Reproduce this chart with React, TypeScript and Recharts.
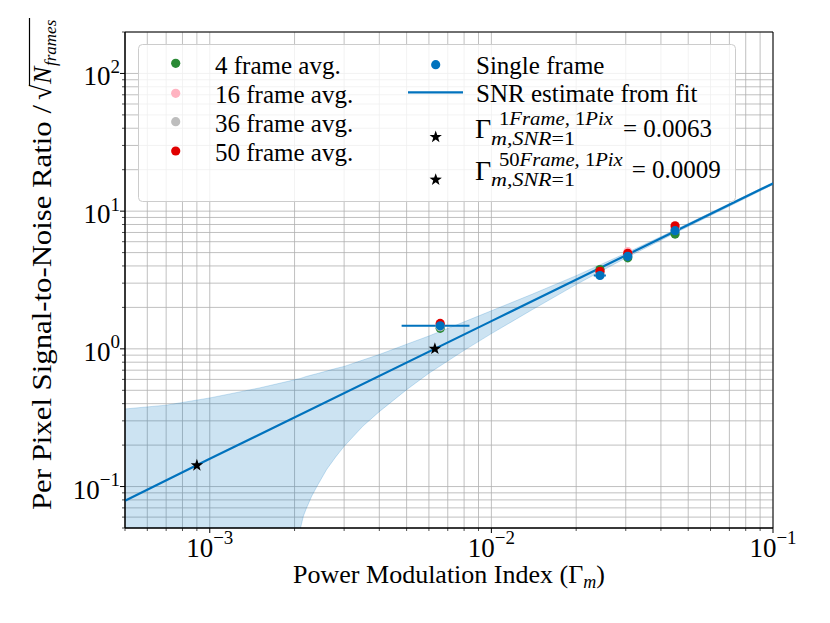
import React from 'react';
import {
  ComposedChart,
  XAxis,
  YAxis,
  CartesianGrid,
  Area,
  Line,
  Scatter,
  ErrorBar,
  ReferenceArea,
} from 'recharts';

const FONT = '"Liberation Serif", "DejaVu Serif", serif';
const W = 822;
const H = 615;
const BLUE = '#0072BD';

// ---- axis ticks ----
const xTicks = [
  0.0005, 0.0006, 0.0007, 0.0008, 0.0009,
  0.001, 0.002, 0.003, 0.004, 0.005, 0.006, 0.007, 0.008, 0.009,
  0.01, 0.02, 0.03, 0.04, 0.05, 0.06, 0.07, 0.08, 0.09,
  0.1,
];
const yTicks = [
  0.05, 0.06, 0.07, 0.08, 0.09,
  0.1, 0.2, 0.3, 0.4, 0.5, 0.6, 0.7, 0.8, 0.9,
  1, 2, 3, 4, 5, 6, 7, 8, 9,
  10, 20, 30, 40, 50, 60, 70, 80, 90,
  100, 200,
];
const majorX = [0.001, 0.01, 0.1];
const majorXExp = ['\u22123', '\u22122', '\u22121'];
const majorY = [0.1, 1, 10, 100];
const majorYExp = ['\u22121', '0', '1', '2'];

// ---- confidence band of the fit ----
const bandX = [
  0.0005, 0.0007, 0.001, 0.0015, 0.002, 0.0021, 0.00215, 0.0022, 0.0023,
  0.0024, 0.0026, 0.0028, 0.003, 0.0035, 0.004, 0.005, 0.006, 0.008, 0.01,
  0.014, 0.02, 0.03, 0.045, 0.07, 0.1,
];
const bandLower = [
  0.05, 0.05, 0.05, 0.05, 0.05, 0.05, 0.061, 0.069, 0.085,
  0.1, 0.133, 0.164, 0.196, 0.275, 0.35, 0.505, 0.665, 0.975, 1.29,
  1.93, 2.93, 4.57, 6.95, 10.85, 15.6,
];
const bandUpper = [
  0.366, 0.39, 0.44, 0.52, 0.596, 0.61, 0.62, 0.63, 0.645,
  0.66, 0.69, 0.72, 0.745, 0.83, 0.91, 1.08, 1.24, 1.57, 1.89,
  2.5, 3.4, 4.95, 7.33, 11.35, 16.15,
];

// ---- SNR fit line ----
const fitX = [0.0005, 0.001, 0.01, 0.1];
const fitY = [0.079, 0.159, 1.59, 15.9];

// ---- measured points ----
const pointX = [0.00658, 0.0243, 0.0305, 0.0449];
const singleFrame = [1.47, 3.41, 4.7, 7.21];
const singleFrameXErr = [0.00178, 0.0012, 0.0008, 0.0008];
const avg4 = [1.41, 3.77, 4.58, 6.82];
const avg16 = [1.5, 3.6, 5.08, 7.5];
const avg36 = [1.45, 3.5, 4.8, 7.3];
const avg50 = [1.53, 3.66, 4.94, 7.83];

// ---- SNR = 1 crossings ----
const starX = [0.0063, 0.0009];
const starY = [1.0, 0.1425];

const bandData = bandX.map((x, i) => {
  const fi = fitX.findIndex((f) => Math.abs(f - x) / x < 1e-9);
  return { x, band: [bandLower[i], bandUpper[i]], fit: fi >= 0 ? fitY[fi] : null };
});
const mk = (ys: number[]) => pointX.map((x, i) => ({ x, y: ys[i] }));
const singleData = pointX.map((x, i) => ({ x, y: singleFrame[i], xerr: singleFrameXErr[i] }));
const starData = starX.map((x, i) => ({ x, y: starY[i] }));

const findIdx = (arr: number[], v: number) => arr.findIndex((m) => Math.abs(m - v) / m < 1e-6);

const XTick = (props: any) => {
  const { x, y, payload } = props;
  const mi = findIdx(majorX, payload.value);
  const major = mi >= 0;
  return (
    <g>
      <line x1={x} x2={x} y1={y} y2={y + (major ? 5 : 3)} stroke="#000" strokeWidth={major ? 1 : 0.7} />
      {major && (
        <text x={x} y={y + 28.5} textAnchor="middle" fontFamily={FONT} fontSize={27} fill="#000">
          10
          <tspan dy={-13} fontSize={19}>{majorXExp[mi]}</tspan>
        </text>
      )}
    </g>
  );
};

const YTick = (props: any) => {
  const { x, y, payload } = props;
  const mi = findIdx(majorY, payload.value);
  const major = mi >= 0;
  return (
    <g>
      <line x1={x - (major ? 5 : 3)} x2={x} y1={y} y2={y} stroke="#000" strokeWidth={major ? 1 : 0.7} />
      {major && (
        <text x={x - 5} y={y + 12} textAnchor="end" fontFamily={FONT} fontSize={27} fill="#000">
          10
          <tspan dy={-12.5} fontSize={19}>{majorYExp[mi]}</tspan>
        </text>
      )}
    </g>
  );
};

const dotShape = (color: string) => (p: any) => <circle cx={p.cx} cy={p.cy} r={4.6} fill={color} />;

const starPath = (cx: number, cy: number, R: number) => {
  const r = R * 0.4;
  let d = '';
  for (let k = 0; k < 10; k++) {
    const rad = k % 2 === 0 ? R : r;
    const a = -Math.PI / 2 + (k * Math.PI) / 5;
    d += (k === 0 ? 'M' : 'L') + (cx + rad * Math.cos(a)).toFixed(2) + ',' + (cy + rad * Math.sin(a)).toFixed(2);
  }
  return d + 'Z';
};
const starShape = (p: any) => <path d={starPath(p.cx, p.cy, 6.5)} fill="#000" />;

function Overlay() {
  const col1 = [
    { c: '#2a8a35', t: '4 frame avg.' },
    { c: '#ffb3c1', t: '16 frame avg.' },
    { c: '#bdbdbd', t: '36 frame avg.' },
    { c: '#e00000', t: '50 frame avg.' },
  ];
  const col1y = [19.3, 49.3, 77.7, 107];
  const col1base = [30, 59.3, 87.7, 116.5];
  return (
    <svg width={W} height={H} style={{ position: 'absolute', left: 0, top: 0, pointerEvents: 'none' }}>
      {/* legend */}
      <g transform="translate(130,36)" fontFamily={FONT} fill="#000">
        <rect x={0.5} y={0.5} width={597} height={157} rx={4} fill="#ffffff" fillOpacity={0.8} stroke="#cccccc" />
        {col1.map((e, i) => (
          <g key={i}>
            <circle cx={37.7} cy={col1y[i]} r={4.6} fill={e.c} />
            <text x={77} y={col1base[i]} fontSize={25}>{e.t}</text>
          </g>
        ))}
        <circle cx={297.7} cy={20.7} r={4.6} fill={BLUE} />
        <text x={338} y={30} fontSize={25}>Single frame</text>
        <line x1={270} x2={325} y1={48.3} y2={48.3} stroke={BLUE} strokeWidth={2.2} />
        <text x={338} y={58} fontSize={25}>SNR estimate from fit</text>

        <path d={starPath(297.7, 93, 6.5)} fill="#000" />
        <text x={337} y={94} fontSize={28}>Γ</text>
        <text x={361} y={81.3} fontSize={19} textLength={114} lengthAdjust="spacingAndGlyphs">
          1<tspan fontStyle="italic">Frame,</tspan> 1<tspan fontStyle="italic">Pix</tspan>
        </text>
        <text x={353} y={100.5} fontSize={19} textLength={84} lengthAdjust="spacingAndGlyphs">
          <tspan fontStyle="italic">m</tspan>,<tspan fontStyle="italic">SNR</tspan>=1
        </text>
        <text x={485} y={92.5} fontSize={25}>= 0.0063</text>

        <path d={starPath(297.7, 135.7, 6.5)} fill="#000" />
        <text x={337} y={136} fontSize={28}>Γ</text>
        <text x={361} y={122.3} fontSize={19} textLength={123.7} lengthAdjust="spacingAndGlyphs">
          50<tspan fontStyle="italic">Frame,</tspan> 1<tspan fontStyle="italic">Pix</tspan>
        </text>
        <text x={353} y={141.5} fontSize={19} textLength={84} lengthAdjust="spacingAndGlyphs">
          <tspan fontStyle="italic">m</tspan>,<tspan fontStyle="italic">SNR</tspan>=1
        </text>
        <text x={493.7} y={134} fontSize={25}>= 0.0009</text>
      </g>

      {/* x label */}
      <text x={441} y={574.7} textAnchor="middle" fontFamily={FONT} fontSize={26} fill="#000">
        Power Modulation Index (Γ<tspan fontStyle="italic" fontSize={18} dy={5}>m</tspan>
        <tspan dy={-5}>)</tspan>
      </text>

      {/* y label */}
      <g transform="translate(43,502) rotate(-90)" fontFamily={FONT} fill="#000">
        <text x={0} y={0} fontSize={27} textLength={405} lengthAdjust="spacingAndGlyphs">
          Per Pixel Signal-to-Noise Ratio /
        </text>
        <text x={410} y={0} fontSize={28}>√</text>
        <line x1={424} x2={492} y1={-21.5} y2={-21.5} stroke="#000" strokeWidth={1.2} />
        <text x={426} y={0} fontSize={26} fontStyle="italic">N</text>
        <text x={444} y={5} fontSize={17} fontStyle="italic">frames</text>
      </g>
    </svg>
  );
}

export default function App() {
  return (
    <div style={{ position: 'relative', width: W, height: H }}>
      <ComposedChart width={W} height={H} data={bandData} margin={{ top: 24, right: 57, bottom: 0, left: 0 }}>
        <CartesianGrid stroke="#b0b0b0" strokeWidth={0.8} />
        <XAxis
          dataKey="x"
          type="number"
          scale="log"
          domain={[0.0005, 0.1]}
          allowDataOverflow
          ticks={xTicks}
          interval={0}
          tick={<XTick />}
          tickLine={false}
          tickSize={0}
          tickMargin={0}
          axisLine={{ stroke: '#000' }}
          height={95}
        />
        <YAxis
          dataKey="y"
          type="number"
          scale="log"
          domain={[0.05, 200]}
          allowDataOverflow
          ticks={yTicks}
          interval={0}
          tick={<YTick />}
          tickLine={false}
          tickSize={0}
          tickMargin={0}
          axisLine={{ stroke: '#000' }}
          width={117}
        />
        <Area
          dataKey="band"
          type="linear"
          fill={BLUE}
          fillOpacity={0.2}
          stroke={BLUE}
          strokeOpacity={0.2}
          strokeWidth={1}
          dot={false}
          activeDot={false}
          isAnimationActive={false}
        />
        <Line
          dataKey="fit"
          type="linear"
          connectNulls
          stroke={BLUE}
          strokeWidth={2.2}
          dot={false}
          activeDot={false}
          isAnimationActive={false}
        />
        <Scatter data={mk(avg4)} fill="#2a8a35" shape={dotShape('#2a8a35')} isAnimationActive={false} />
        <Scatter data={mk(avg16)} fill="#ffb3c1" shape={dotShape('#ffb3c1')} isAnimationActive={false} />
        <Scatter data={mk(avg36)} fill="#bdbdbd" shape={dotShape('#bdbdbd')} isAnimationActive={false} />
        <Scatter data={mk(avg50)} fill="#e00000" shape={dotShape('#e00000')} isAnimationActive={false} />
        <Scatter data={singleData} fill={BLUE} shape={dotShape(BLUE)} isAnimationActive={false}>
          <ErrorBar dataKey="xerr" direction="x" width={0} stroke={BLUE} strokeWidth={2} />
        </Scatter>
        <Scatter data={starData} fill="#000" shape={starShape} isAnimationActive={false} />
        <ReferenceArea x1={0.0005} x2={0.1} y1={0.05} y2={200} fill="none" stroke="#000" strokeWidth={1} />
      </ComposedChart>
      <Overlay />
    </div>
  );
}
